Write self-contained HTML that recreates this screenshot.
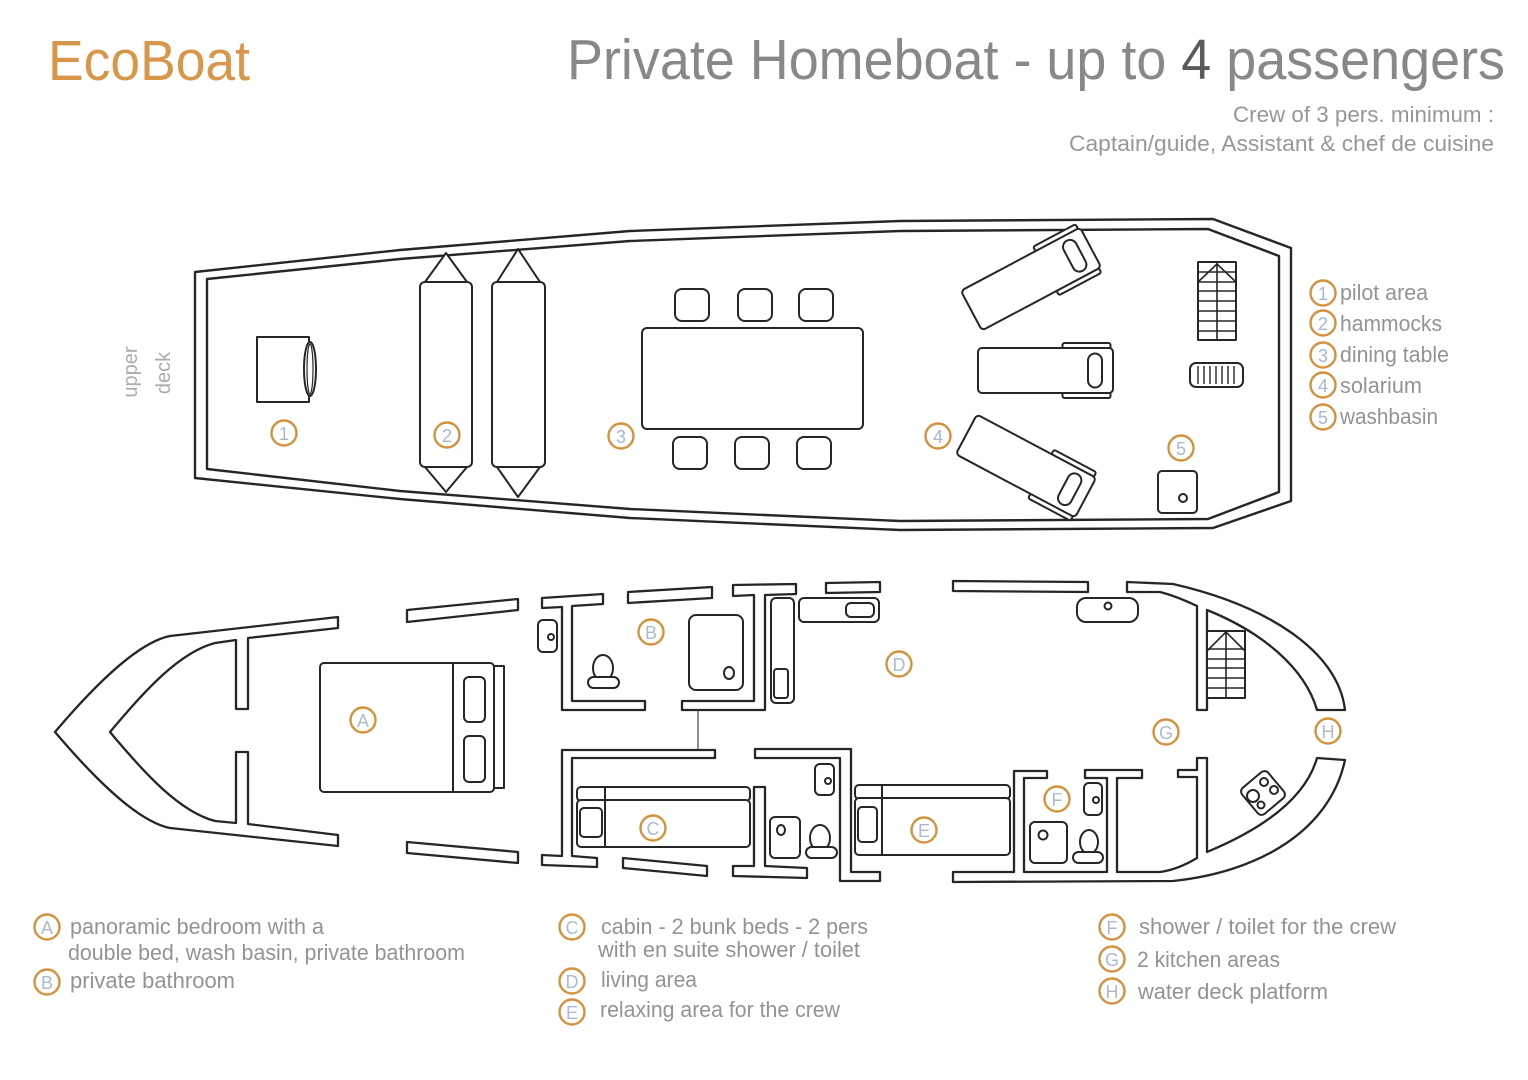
<!DOCTYPE html>
<html>
<head>
<meta charset="utf-8">
<style>
  html,body{margin:0;padding:0;background:#fff;}
  svg{display:block;}
  text{font-family:"Liberation Sans", "DejaVu Sans", sans-serif;}
</style>
</head>
<body>
<svg width="1528" height="1080" viewBox="0 0 1528 1080" xmlns="http://www.w3.org/2000/svg">
<rect width="1528" height="1080" fill="#fff"/>

<!-- Header text -->
<text x="48" y="80" font-size="57" fill="#d8964a" textLength="202" lengthAdjust="spacingAndGlyphs">EcoBoat</text>
<text x="567" y="79" font-size="57" fill="#888888" textLength="938" lengthAdjust="spacingAndGlyphs">Private Homeboat - up to <tspan fill="#5a5a5a">4</tspan> passengers</text>
<text x="1233" y="122" font-size="22" fill="#979797" textLength="261" lengthAdjust="spacingAndGlyphs">Crew of 3 pers. minimum :</text>
<text x="1069" y="151" font-size="22" fill="#979797" textLength="425" lengthAdjust="spacingAndGlyphs">Captain/guide, Assistant &amp; chef de cuisine</text>

<!-- upper deck label -->
<text transform="translate(137,372) rotate(-90)" text-anchor="middle" font-size="20" fill="#ababab">upper</text>
<text transform="translate(170,373) rotate(-90)" text-anchor="middle" font-size="20" fill="#ababab">deck</text>

<!-- ================= UPPER DECK ================= -->
<g fill="none" stroke="#262626" stroke-width="2.4" stroke-linejoin="round">
  <path d="M195,272 L400,250 L630,231 L900,221 L1213,219 L1291,248 L1291,501 L1213,528 L900,530 L630,518 L400,499 L195,478 Z"/>
  <path d="M207,279 L400,259 L630,241 L900,231 L1208,229 L1279,256 L1279,492 L1208,519 L900,521 L630,509 L400,491 L207,469 Z"/>
</g>

<g fill="#fff" stroke="#262626" stroke-width="2" stroke-linejoin="round">
  <!-- pilot -->
  <rect x="257" y="337" width="52" height="65"/>
  <ellipse cx="310" cy="369" rx="6" ry="27"/>
  <ellipse cx="310" cy="369" rx="3" ry="25" fill="none" stroke-width="1.2"/>

  <!-- hammocks -->
  <path d="M425,282 L446,253 L467,282 Z"/>
  <path d="M425,467 L446,492 L467,467 Z"/>
  <rect x="420" y="282" width="52" height="185" rx="5"/>
  <path d="M497,282 L518,249 L540,282 Z"/>
  <path d="M497,467 L518,497 L540,467 Z"/>
  <rect x="492" y="282" width="53" height="185" rx="5"/>

  <!-- dining table -->
  <rect x="642" y="328" width="221" height="101" rx="5"/>
  <rect x="675" y="289" width="34" height="32" rx="7"/>
  <rect x="738" y="289" width="34" height="32" rx="7"/>
  <rect x="799" y="289" width="34" height="32" rx="7"/>
  <rect x="673" y="437" width="34" height="32" rx="7"/>
  <rect x="735" y="437" width="34" height="32" rx="7"/>
  <rect x="797" y="437" width="34" height="32" rx="7"/>

  <!-- loungers -->
  <g transform="translate(1045.5,370.5)">
    <rect x="17" y="-27.5" width="48" height="7" rx="2"/>
    <rect x="17" y="20.5" width="48" height="7" rx="2"/>
    <rect x="-67.5" y="-22.5" width="135" height="45" rx="4"/>
    <rect x="42.5" y="-17" width="14" height="34" rx="7"/>
  </g>
  <g transform="translate(1031,279) rotate(-28)">
    <rect x="17" y="-27.5" width="48" height="7" rx="2"/>
    <rect x="17" y="20.5" width="48" height="7" rx="2"/>
    <rect x="-67.5" y="-22.5" width="135" height="45" rx="4"/>
    <rect x="42.5" y="-17" width="14" height="34" rx="7"/>
  </g>
  <g transform="translate(1026,466) rotate(28)">
    <rect x="17" y="-27.5" width="48" height="7" rx="2"/>
    <rect x="17" y="20.5" width="48" height="7" rx="2"/>
    <rect x="-67.5" y="-22.5" width="135" height="45" rx="4"/>
    <rect x="42.5" y="-17" width="14" height="34" rx="7"/>
  </g>

  <!-- stairs upper -->
  <rect x="1198" y="262" width="38" height="78"/>
  <path d="M1217,262 L1217,340 M1198,272 L1236,272 M1198,282 L1236,282 M1198,291 L1236,291 M1198,301 L1236,301 M1198,311 L1236,311 M1198,321 L1236,321 M1198,331 L1236,331 M1198,282 L1217,264 L1236,282" fill="none" stroke-width="1.6"/>

  <!-- grill -->
  <rect x="1190" y="363" width="53" height="24" rx="6"/>
  <path d="M1198,366 L1198,384 M1204,366 L1204,384 M1210,366 L1210,384 M1216,366 L1216,384 M1222,366 L1222,384 M1228,366 L1228,384 M1234,366 L1234,384" fill="none" stroke-width="1.4"/>

  <!-- washbasin -->
  <rect x="1158" y="471" width="39" height="42" rx="4"/>
  <circle cx="1183" cy="498" r="4"/>
</g>

<!-- upper deck markers -->
<g fill="none" stroke="#d4923e" stroke-width="2.4">
  <circle cx="284" cy="433" r="12.5"/>
  <circle cx="447" cy="435" r="12.5"/>
  <circle cx="621" cy="436" r="12.5"/>
  <circle cx="938" cy="436" r="12.5"/>
  <circle cx="1181" cy="448" r="12.5"/>
</g>
<g font-size="18" fill="#a8b7cb" text-anchor="middle">
  <text x="284" y="440">1</text>
  <text x="447" y="442">2</text>
  <text x="621" y="443">3</text>
  <text x="938" y="443">4</text>
  <text x="1181" y="455">5</text>
</g>

<!-- right legend -->
<g fill="none" stroke="#d4923e" stroke-width="2.4">
  <circle cx="1323" cy="293" r="12.5"/>
  <circle cx="1323" cy="323" r="12.5"/>
  <circle cx="1323" cy="355" r="12.5"/>
  <circle cx="1323" cy="385" r="12.5"/>
  <circle cx="1323" cy="417" r="12.5"/>
</g>
<g font-size="18" fill="#a8b7cb" text-anchor="middle">
  <text x="1323" y="300">1</text>
  <text x="1323" y="330">2</text>
  <text x="1323" y="362">3</text>
  <text x="1323" y="392">4</text>
  <text x="1323" y="424">5</text>
</g>
<g font-size="22" fill="#939393">
  <text x="1340" y="300" textLength="88" lengthAdjust="spacingAndGlyphs">pilot area</text>
  <text x="1340" y="331" textLength="102" lengthAdjust="spacingAndGlyphs">hammocks</text>
  <text x="1340" y="362" textLength="109" lengthAdjust="spacingAndGlyphs">dining table</text>
  <text x="1340" y="393" textLength="82" lengthAdjust="spacingAndGlyphs">solarium</text>
  <text x="1340" y="424" textLength="98" lengthAdjust="spacingAndGlyphs">washbasin</text>
</g>

<!-- ================= LOWER DECK ================= -->
<g fill="#fff" stroke="#262626" stroke-width="2.3" stroke-linejoin="round">
  <path d="M338,617 L338,628 L248,638 L248,709 L236,709 L236,640 L215,643 C180,652 145,690 110,732 C145,774 180,812 215,821 L236,823 L236,752 L248,752 L248,824 L338,835 L338,846 L170,828 C140,822 100,785 55,732 C100,679 140,642 170,636 Z"/>

  <path d="M407,610 L518,599 L518,610 L407,622 Z"/>
  <path d="M628,592 L712,587 L712,598 L628,603 Z"/>
  <path d="M826,583 L880,582 L880,592 L826,593 Z"/>
  <path d="M953,581 L1088,582 L1088,592 L953,591 Z"/>

  <path d="M407,842 L518,852 L518,863 L407,853 Z"/>
  <path d="M623,858 L707,866 L707,876 L623,868 Z"/>

  <path d="M542,598 L603,594 L603,604 L572,606 L572,701 L645,701 L645,710 L562,710 L562,607 L542,608 Z"/>
  <path d="M733,585 L796,584 L796,594 L765,595 L765,710 L682,710 L682,701 L754,701 L754,595 L733,596 Z"/>

  <path d="M562,750 L715,750 L715,758 L572,758 L572,856 L597,858 L597,867 L542,865 L542,855 L562,856 Z"/>
  <path d="M754,787 L765,787 L765,866 L807,868 L807,878 L733,876 L733,866 L754,866 Z"/>
  <path d="M755,749 L851,749 L851,872 L880,872 L880,881 L840,881 L840,758 L755,758 Z"/>

  <path d="M1127,582 L1173,584 C1265,605 1338,650 1345,710 L1317,710 C1305,668 1262,632 1207,610 L1207,710 L1197,710 L1197,606 C1180,598 1168,594 1160,592 L1127,592 Z"/>
  <path d="M953,872 L1014,872 L1014,771 L1047,771 L1047,778 L1024,778 L1024,872 L1107,872 L1107,778 L1085,778 L1085,770 L1142,770 L1142,778 L1117,778 L1117,872 L1160,872 C1175,870 1187,864 1197,858 L1197,777 L1178,777 L1178,770 L1197,770 L1197,758 L1207,758 L1207,852 C1260,830 1305,800 1317,758 L1345,760 C1330,830 1260,872 1173,881 L953,882 Z"/>
</g>

<line x1="698" y1="710" x2="698" y2="750" stroke="#444" stroke-width="1.2"/>

<g fill="#fff" stroke="#262626" stroke-width="2" stroke-linejoin="round">
  <!-- A bed -->
  <rect x="494" y="666" width="10" height="122"/>
  <rect x="320" y="663" width="174" height="129" rx="4"/>
  <line x1="453" y1="663" x2="453" y2="792"/>
  <rect x="464" y="677" width="21" height="45" rx="5"/>
  <rect x="464" y="736" width="21" height="46" rx="5"/>

  <!-- B room -->
  <rect x="538" y="620" width="19" height="32" rx="5"/>
  <circle cx="551" cy="637" r="3"/>
  <ellipse cx="603" cy="668" rx="10" ry="13"/>
  <rect x="588" y="677" width="31" height="11" rx="5.5"/>
  <rect x="689" y="615" width="54" height="75" rx="7"/>
  <ellipse cx="729" cy="673" rx="5" ry="6"/>
  <rect x="771" y="598" width="23" height="105" rx="5"/>
  <rect x="774" y="669" width="14" height="29" rx="3"/>
  <rect x="799" y="598" width="80" height="24" rx="5"/>
  <rect x="846" y="603" width="28" height="14" rx="5"/>

  <!-- D sink -->
  <rect x="1077" y="598" width="61" height="24" rx="9"/>
  <circle cx="1108" cy="606" r="3.5"/>

  <!-- C bunk -->
  <rect x="577" y="787" width="173" height="14" rx="4"/>
  <rect x="577" y="800" width="173" height="47" rx="4"/>
  <line x1="605" y1="787" x2="605" y2="847"/>
  <rect x="580" y="808" width="22" height="29" rx="4"/>

  <!-- C bath -->
  <rect x="815" y="764" width="19" height="31" rx="5"/>
  <circle cx="828" cy="781" r="3"/>
  <rect x="770" y="817" width="30" height="41" rx="5"/>
  <ellipse cx="781" cy="830" rx="4" ry="5"/>
  <ellipse cx="820" cy="838" rx="10" ry="13"/>
  <rect x="806" y="847" width="31" height="11" rx="5.5"/>

  <!-- E bunk -->
  <rect x="855" y="785" width="155" height="14" rx="4"/>
  <rect x="855" y="798" width="155" height="57" rx="4"/>
  <line x1="882" y1="785" x2="882" y2="855"/>
  <rect x="858" y="807" width="19" height="35" rx="4"/>

  <!-- F room -->
  <rect x="1084" y="783" width="18" height="32" rx="5"/>
  <circle cx="1096" cy="800" r="3"/>
  <rect x="1030" y="822" width="37" height="41" rx="5"/>
  <circle cx="1043" cy="835" r="4.5"/>
  <ellipse cx="1089" cy="842" rx="9" ry="12"/>
  <rect x="1073" y="852" width="30" height="11" rx="5.5"/>

  <!-- stairs lower -->
  <rect x="1207" y="631" width="38" height="67"/>
  <path d="M1226,631 L1226,698 M1207,649 L1245,649 M1207,659 L1245,659 M1207,668 L1245,668 M1207,678 L1245,678 M1207,688 L1245,688 M1207,651 L1226,632 L1245,651" fill="none" stroke-width="1.6"/>

  <!-- cooker -->
  <g transform="translate(1263,793) rotate(-40)">
    <rect x="-17" y="-17" width="34" height="34" rx="5"/>
  </g>
  <circle cx="1253" cy="796" r="6"/>
  <circle cx="1264" cy="782" r="4"/>
  <circle cx="1274" cy="790" r="4"/>
  <circle cx="1261" cy="805" r="3.5"/>
</g>

<!-- lower deck markers -->
<g fill="none" stroke="#d4923e" stroke-width="2.4">
  <circle cx="363" cy="720" r="12.5"/>
  <circle cx="651" cy="632" r="12.5"/>
  <circle cx="653" cy="828" r="12.5"/>
  <circle cx="899" cy="664" r="12.5"/>
  <circle cx="924" cy="830" r="12.5"/>
  <circle cx="1057" cy="799" r="12.5"/>
  <circle cx="1166" cy="732" r="12.5"/>
  <circle cx="1328" cy="731" r="12.5"/>
</g>
<g font-size="18" fill="#adbacd" text-anchor="middle">
  <text x="363" y="727">A</text>
  <text x="651" y="639">B</text>
  <text x="653" y="835">C</text>
  <text x="899" y="671">D</text>
  <text x="924" y="837">E</text>
  <text x="1057" y="806">F</text>
  <text x="1166" y="739">G</text>
  <text x="1328" y="738">H</text>
</g>

<!-- ================= BOTTOM LEGEND ================= -->
<g fill="none" stroke="#d4923e" stroke-width="2.4">
  <circle cx="47" cy="927" r="12.5"/>
  <circle cx="47" cy="982" r="12.5"/>
  <circle cx="572" cy="927" r="12.5"/>
  <circle cx="572" cy="981" r="12.5"/>
  <circle cx="572" cy="1012" r="12.5"/>
  <circle cx="1112" cy="927" r="12.5"/>
  <circle cx="1112" cy="959" r="12.5"/>
  <circle cx="1112" cy="991" r="12.5"/>
</g>
<g font-size="18" fill="#adbacd" text-anchor="middle">
  <text x="47" y="934">A</text>
  <text x="47" y="989">B</text>
  <text x="572" y="934">C</text>
  <text x="572" y="988">D</text>
  <text x="572" y="1019">E</text>
  <text x="1112" y="934">F</text>
  <text x="1112" y="966">G</text>
  <text x="1112" y="998">H</text>
</g>
<g font-size="22" fill="#939393">
  <text x="70" y="934" textLength="254" lengthAdjust="spacingAndGlyphs">panoramic bedroom with a</text>
  <text x="68" y="960" textLength="397" lengthAdjust="spacingAndGlyphs">double bed, wash basin, private bathroom</text>
  <text x="70" y="988" textLength="165" lengthAdjust="spacingAndGlyphs">private bathroom</text>

  <text x="601" y="934" textLength="267" lengthAdjust="spacingAndGlyphs">cabin - 2 bunk beds - 2 pers</text>
  <text x="598" y="957" textLength="262" lengthAdjust="spacingAndGlyphs">with en suite shower / toilet</text>
  <text x="601" y="987" textLength="96" lengthAdjust="spacingAndGlyphs">living area</text>
  <text x="600" y="1017" textLength="240" lengthAdjust="spacingAndGlyphs">relaxing area for the crew</text>

  <text x="1139" y="934" textLength="257" lengthAdjust="spacingAndGlyphs">shower / toilet for the crew</text>
  <text x="1137" y="967" textLength="143" lengthAdjust="spacingAndGlyphs">2 kitchen areas</text>
  <text x="1138" y="999" textLength="190" lengthAdjust="spacingAndGlyphs">water deck platform</text>
</g>
</svg>
</body>
</html>
